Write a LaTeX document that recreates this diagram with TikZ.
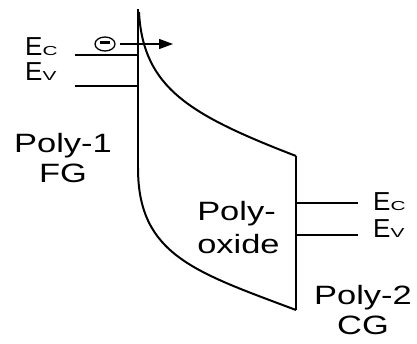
\documentclass[tikz,border=0pt]{standalone}
\usepackage{graphicx}
\usepackage{fontspec}
\setmainfont{Liberation Sans}
\usetikzlibrary{positioning,arrows.meta,shapes.geometric}
\newcommand{\Elev}[1]{E\scalebox{1.6}[1]{\fontsize{13}{13}\selectfont #1}}
\tikzset{
  bandline/.style={line width=2.2pt},
  bandcurve/.style={line width=2pt},
  levelline/.style={line width=1.4pt},
  levellabel/.style={anchor=base west, inner sep=0pt, font=\fontsize{26}{27}\selectfont},
  polytext/.style={inner sep=0pt, xscale=1.3, font=\fontsize{26.5}{27}\selectfont},
  electron/.style={draw, ellipse, line width=1.3pt, minimum width=20pt, minimum height=14pt, inner sep=0pt},
  kickarrow/.style={-{Triangle[length=14pt,width=10pt]}, line width=1.3pt}
}
\begin{document}
\begin{tikzpicture}[x=1pt, y=-1pt]
      \useasboundingbox (0,0) rectangle (417,343);
      % band edges
      \coordinate (fgtop) at (138,9);
      \coordinate (fgknee) at (138,168);
      \coordinate (cgtop) at (296,156);
      \coordinate (cgbot) at (296,310);
      \draw[bandline] (fgtop) -- (fgknee);
      \draw[bandline] (cgtop) -- (cgbot);
      \draw[bandcurve] (139,12) .. controls (143,88) and (190,115) .. (cgtop);
      \draw[bandcurve] (fgknee) .. controls (138,255) and (195,272) .. (cgbot);
      % levels
      \node[levellabel] (ecl) at (25,55) {\Elev{C}};
      \node[levellabel] (evl) at (25,80) {\Elev{V}};
      \node[levellabel] (ecr) at (373,210) {\Elev{C}};
      \node[levellabel] (evr) at (373,237) {\Elev{V}};
      \coordinate (ecla) at (75,55);
      \coordinate (evla) at (75,86);
      \coordinate (ecrb) at (358,203);
      \coordinate (evrb) at (358,235);
      \draw[levelline] (ecla) -- (ecla -| fgtop);
      \draw[levelline] (evla) -- (evla -| fgtop);
      \draw[levelline] (ecrb -| cgtop) -- (ecrb);
      \draw[levelline] (evrb -| cgtop) -- (evrb);
      % electron
      \node[electron] (elec) at (105,44) {\rule[2.6pt]{10pt}{2.6pt}};
      \coordinate (kick) at (173,44);
      \draw[kickarrow, shorten <=4pt] (elec) -- (kick);
      % regions
      \node[polytext, anchor=base, align=center] (fg) at (63,182) {Poly-1\\[3pt]FG};
      \node[polytext, anchor=base west, align=left, font=\fontsize{26.5}{33}\selectfont] (ox) at (197,253) {Poly-\\oxide};
      \node[polytext, anchor=base, align=center] (cg) at (363,334) {Poly-2\\[3pt]CG};
\end{tikzpicture}
\end{document}
